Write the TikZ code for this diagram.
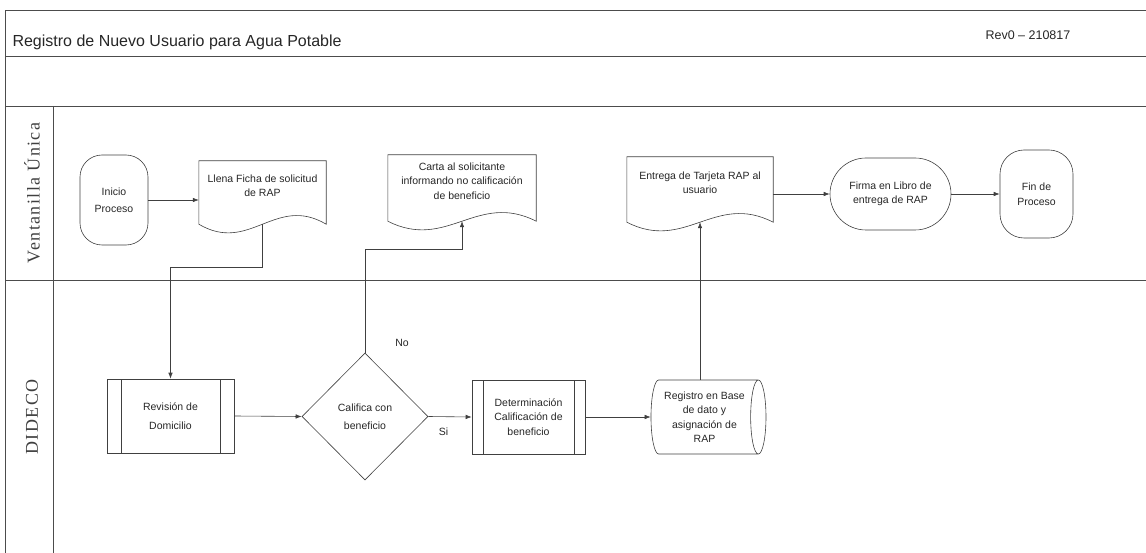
\documentclass[tikz,border=0pt]{standalone}
\usepackage{fontspec}
\setmainfont{Liberation Sans}
\newfontfamily\lanefont[LetterSpace=8]{Liberation Serif}
\usetikzlibrary{arrows.meta,shapes.geometric,calc}

% document outline with wavy foot under a node
\newcommand\docframe[1]{%
  \coordinate (#1-se) at ([yshift=-14pt]#1.south east);
  \coordinate (#1-sw) at ([yshift=-14pt]#1.south west);
  \coordinate (#1-foot) at ([yshift=-14pt]#1.south);
  \draw[shapeline] (#1-sw) -- (#1.north west) -- (#1.north east) -- (#1-se)
    .. controls ($(#1-se)!0.4!(#1-sw)+(0,-30)$) and ($(#1-se)!0.6!(#1-sw)+(0,30)$) .. (#1-sw);}

\begin{document}
\begin{tikzpicture}[x=1pt,y=-1pt,
  shapeline/.style={draw=black!75,line width=0.6pt},
  every node/.style={font=\fontsize{10.5}{14.5}\selectfont,align=center,text=black!85},
  term/.style={shapeline,rounded corners=#1,inner sep=2pt},
  doc/.style={inner sep=1pt},
  subproc/.style={shapeline,path picture={
    \draw[shapeline] ([xshift=#1]path picture bounding box.north west) -- ([xshift=#1]path picture bounding box.south west)
      ([xshift=-#1]path picture bounding box.north east) -- ([xshift=-#1]path picture bounding box.south east);}},
  decision/.style={shapeline,diamond,aspect=1,inner sep=0pt},
  storage/.style={shapeline,cylinder,shape aspect=0.3,inner sep=0pt},
  arr/.style={draw=black!75,line width=0.6pt,-{Latex[length=6pt,width=4.5pt]}},
  lane/.style={draw=black!70,line width=0.6pt},
  lanelabel/.style={font=\lanefont\fontsize{18}{20}\selectfont,rotate=90,text=black!75},
  lbl/.style={font=\fontsize{10.5}{12}\selectfont}]
\useasboundingbox (0,0) rectangle (1146,553);

% frame and lanes
\draw[lane] (5,553) -- (5,10) -- (1146,10);
\draw[lane] (5,56) -- (1146,56);
\draw[lane] (5,106) -- (1146,106);
\draw[lane] (5,280) -- (1146,280);
\draw[lane] (53,106) -- (53,553);

\node[anchor=base west,font=\fontsize{16}{18}\selectfont] (title) at (9,47) {Registro de Nuevo Usuario para Agua Potable};
\node[anchor=base west,font=\fontsize{12.5}{14}\selectfont] (rev) at (982,40) {Rev0 – 210817};
\node[lanelabel] (ventanilla) at (32,193) {Ventanilla Única};
\node[lanelabel] (dideco) at (32,417) {DIDECO};

% Ventanilla Unica
\node[term=22pt,minimum width=68,minimum height=90] (inicio) at (114,200) {Inicio\\[2pt]Proceso};
\node[doc,minimum width=127,minimum height=49] (llena) at (262.5,185.5) {Llena Ficha de solicitud\\de RAP};
\node[doc,minimum width=148,minimum height=52] (carta) at (462,181) {Carta al solicitante\\informando no calificación\\de beneficio};
\node[doc,minimum width=146,minimum height=51] (entrega) at (700,182.5) {Entrega de Tarjeta RAP al\\usuario};
\node[term=36pt,minimum width=121,minimum height=72] (firma) at (890.5,194) {Firma en Libro de\\entrega de RAP};
\node[term=24pt,minimum width=73,minimum height=88] (fin) at (1036.5,194) {Fin de\\Proceso};
\docframe{llena}
\docframe{carta}
\docframe{entrega}

% DIDECO
\node[subproc=14pt,minimum width=127,minimum height=74] (revision) at (170.5,416) {Revisión de\\[4pt]Domicilio};
\node[decision,minimum width=126,minimum height=127] (califica) at (365,416.5) {Califica con\\[4pt]beneficio};
\node[subproc=11pt,minimum width=113,minimum height=74] (determina) at (528.5,417) {Determinación\\Calificación de\\beneficio};
\node[storage,minimum width=74,minimum height=115] (registro) at (704.5,417) {Registro en Base\\de dato y\\asignación de\\RAP};
\node[lbl] (no) at (402,343) {No};

\draw[arr] (inicio.east) -- (inicio.east -| llena.west);
\draw[arr] (llena-foot) -- ++(0,43) -| (revision.north);
\draw[arr] (revision.east) -- (califica.west);
\draw[arr] (califica.east) -- (determina.west) node[lbl,pos=0.35,below=8pt] {Si};
\draw[arr] (califica.north) |- ([yshift=-28pt]carta-foot) -- (carta-foot);
\draw[arr] (determina.east) -- (registro.west);
\draw[arr] (entrega-foot |- registro.north) -- (entrega-foot);
\draw[arr] (entrega.east |- firma.west) -- (firma.west);
\draw[arr] (firma.east) -- (fin.west);
\end{tikzpicture}
\end{document}
